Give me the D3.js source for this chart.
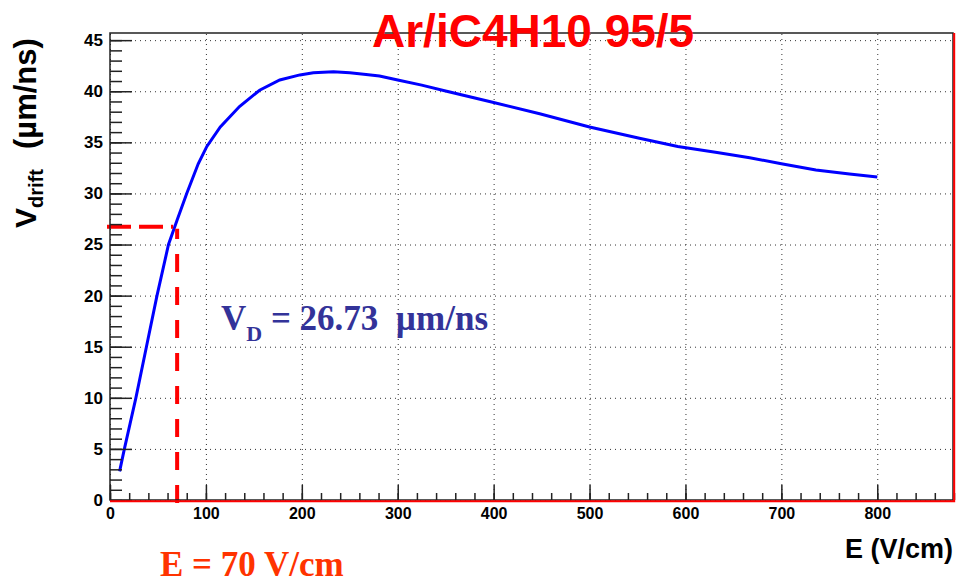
<!DOCTYPE html>
<html>
<head>
<meta charset="utf-8">
<script src="https://cdn.jsdelivr.net/npm/d3@7"></script>
<style>
  body { margin: 0; background: #fff; }
  svg { display: block; }
</style>
</head>
<body>
<script>
'use strict';

// drift velocity curve
const eField = [10, 15, 21, 27, 38, 49, 61, 70, 80, 92, 101, 115, 135, 156, 177, 198, 212,
  233, 250, 267, 281, 300, 325, 351, 400, 448, 500, 552, 592, 633, 667, 700, 736, 771, 800];
const vDrift = [2.8, 5.0, 7.5, 10.0, 15.0, 20.0, 25.0, 27.4, 30.0, 32.9, 34.6, 36.5, 38.5, 40.1, 41.1, 41.6, 41.8,
  41.9, 41.8, 41.65, 41.5, 41.1, 40.6, 40.0, 38.9, 37.8, 36.5, 35.4, 34.6, 34.0, 33.5, 32.9, 32.3, 31.9, 31.6];

const xMajorTicks = [0, 100, 200, 300, 400, 500, 600, 700, 800];
const yMajorTicks = [0, 5, 10, 15, 20, 25, 30, 35, 40, 45];
const xDomain = [0, 880];
const yDomain = [0, 45.7];

const titleText = "Ar/iC4H10 95/5";
const xTitle = "E (V/cm)";
const workingE = 70;       // V/cm
const workingV = 26.73;    // um/ns

(function() {

  let svg = "";

  window.onload = function() {
    svg = d3.select('body')
      .append('svg')
      .attr('width', 958)
      .attr('height', 583);

    let x = d3.scaleLinear().domain(xDomain).range([110, 954]);
    let y = d3.scaleLinear().domain(yDomain).range([500, 33]);

    drawGrid(x, y);
    drawCurve(x, y);
    drawWorkingPoint(x, y);
    drawAxes(x, y);
    drawLabels();
  }

  // dotted grid at the major ticks
  function drawGrid(x, y) {
    let gx = svg.append('g')
      .attr('transform', 'translate(0, 500)')
      .call(d3.axisBottom(x).tickValues(xMajorTicks).tickSize(-467).tickFormat(''));
    let gy = svg.append('g')
      .attr('transform', 'translate(110, 0)')
      .call(d3.axisLeft(y).tickValues(yMajorTicks).tickSize(-844).tickFormat(''));
    [gx, gy].forEach(g => {
      g.select('.domain').remove();
      g.selectAll('line')
        .attr('stroke', '#333')
        .attr('stroke-width', 1)
        .attr('stroke-dasharray', '1,4');
    });
  }

  // blue drift velocity line
  function drawCurve(x, y) {
    let line = d3.line()
      .x((d, i) => x(eField[i]))
      .y((d) => y(d));

    svg.append('path')
      .datum(vDrift)
      .attr('fill', 'none')
      .attr('stroke', '#0000ff')
      .attr('stroke-width', 3)
      .attr('d', line);
  }

  // red dashed lines at 70 V/cm
  function drawWorkingPoint(x, y) {
    svg.append('line')
      .attr('x1', x(workingE)).attr('x2', x(workingE))
      .attr('y1', y(0) + 3).attr('y2', y(workingV) + 2)
      .attr('stroke', '#ff0000')
      .attr('stroke-width', 4)
      .attr('stroke-dasharray', '18,15');

    svg.append('line')
      .attr('x1', x(0) - 3).attr('x2', x(workingE) - 4)
      .attr('y1', y(workingV)).attr('y2', y(workingV))
      .attr('stroke', '#ff0000')
      .attr('stroke-width', 4)
      .attr('stroke-dasharray', '24,8');
  }

  // frame, ticks and tick labels
  function drawAxes(x, y) {
    // minor ticks
    let minorX = svg.append('g')
      .attr('transform', 'translate(0, 500)')
      .call(d3.axisBottom(x).tickValues(d3.range(0, 881, 20)).tickSize(-7).tickFormat(''));
    let minorY = svg.append('g')
      .attr('transform', 'translate(110, 0)')
      .call(d3.axisLeft(y).tickValues(d3.range(0, 46, 1)).tickSize(-12).tickFormat(''));

    // major ticks with labels
    let majorX = svg.append('g')
      .attr('transform', 'translate(0, 500)')
      .call(d3.axisBottom(x).tickValues(xMajorTicks).tickSize(-15).tickPadding(8));
    let majorY = svg.append('g')
      .attr('transform', 'translate(110, 0)')
      .call(d3.axisLeft(y).tickValues(yMajorTicks).tickSize(-22).tickPadding(7));

    [minorX, minorY, majorX, majorY].forEach(g => {
      g.select('.domain').remove();
      g.selectAll('line').attr('stroke', '#222').attr('stroke-width', 1.5);
      g.selectAll('text')
        .attr('fill', '#000')
        .style('font-family', '"Liberation Sans", Arial, sans-serif')
        .style('font-weight', 'bold');
    });
    majorX.selectAll('text').style('font-size', '16px');
    majorY.selectAll('text').style('font-size', '17px');

    // frame: black box with red bottom and right edges
    svg.append('rect')
      .attr('x', 110).attr('y', 33)
      .attr('width', 843).attr('height', 467)
      .attr('fill', 'none')
      .attr('stroke', '#222')
      .attr('stroke-width', 1.5);
    svg.append('path')
      .attr('d', 'M110,501.2H954.2V33')
      .attr('fill', 'none')
      .attr('stroke', '#ff0000')
      .attr('stroke-width', 2);
  }

  // title, axis titles and annotations
  function drawLabels() {
    svg.append('text')
      .attr('x', 372)
      .attr('y', 47)
      .attr('fill', '#ff0000')
      .style('font-family', '"Liberation Sans", Arial, sans-serif')
      .style('font-weight', 'bold')
      .style('font-size', '46px')
      .text(titleText);

    svg.append('text')
      .attr('x', 953)
      .attr('y', 558)
      .attr('text-anchor', 'end')
      .style('font-family', '"Liberation Sans", Arial, sans-serif')
      .style('font-weight', 'bold')
      .style('font-size', '27px')
      .text(xTitle);

    // rotated y title with subscript
    let yTitle = svg.append('text')
      .attr('transform', 'translate(36, 228)rotate(-90)')
      .style('font-family', '"Liberation Sans", Arial, sans-serif')
      .style('font-weight', 'bold')
      .style('font-size', '30px');
    yTitle.append('tspan').text('V');
    yTitle.append('tspan').attr('dy', 7).style('font-size', '20px').text('drift');
    yTitle.append('tspan').attr('x', 79).attr('dy', -7).style('font-size', '31px').text('(\u00b5m/ns)');

    // V_D annotation
    let vd = svg.append('text')
      .attr('x', 221)
      .attr('y', 330)
      .attr('fill', '#333399')
      .style('font-family', '"Liberation Serif", "Times New Roman", serif')
      .style('font-weight', 'bold')
      .style('font-size', '35px')
      .style('white-space', 'pre');
    vd.append('tspan').text('V');
    vd.append('tspan').attr('dy', 11).style('font-size', '22px').text('D');
    vd.append('tspan').attr('dy', -11).text(' = ' + workingV + '  \u00b5m/ns');

    svg.append('text')
      .attr('x', 160)
      .attr('y', 576)
      .attr('fill', '#ff3300')
      .style('font-family', '"Liberation Serif", "Times New Roman", serif')
      .style('font-weight', 'bold')
      .style('font-size', '35px')
      .text('E = ' + workingE + ' V/cm');
  }
})();
</script>
</body>
</html>
